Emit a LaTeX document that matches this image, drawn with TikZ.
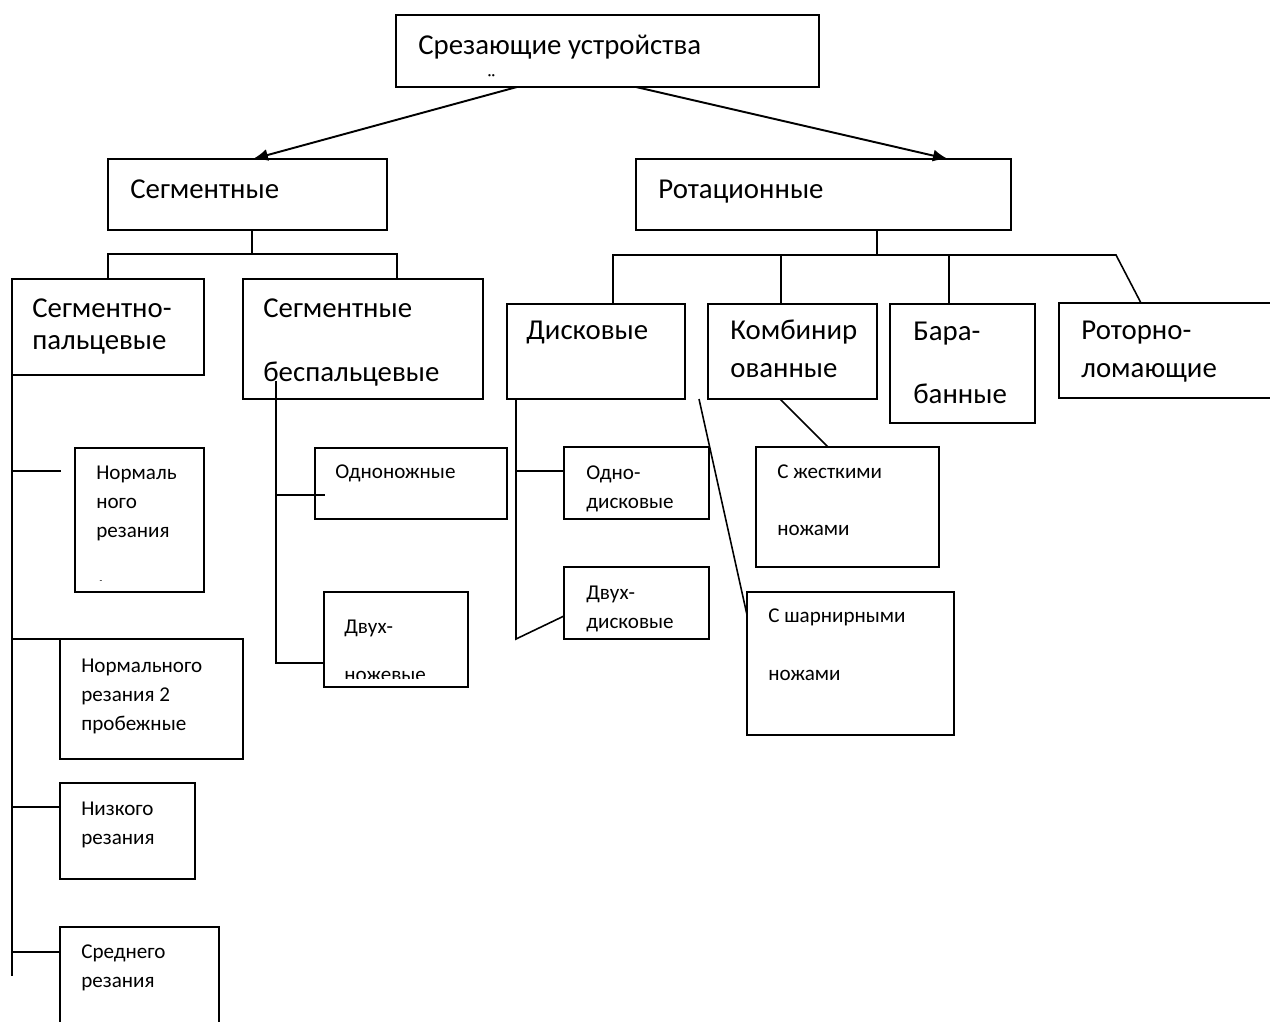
\documentclass[tikz,border=0pt]{standalone}
\usepackage{fontspec}
\setmainfont{Carlito}
\usetikzlibrary{arrows.meta}

\begin{document}
\begin{tikzpicture}[x=0.02cm, y=-0.02cm]

% Styles
        \tikzstyle{box}=[rectangle, draw, line width=1pt, anchor=north west, inner sep=0pt, outer sep=0pt]
        \tikzstyle{bigtxt}=[anchor=base west, inner sep=0pt, align=left, font=\fontsize{16.4}{18}\selectfont]
        \tikzstyle{smalltxt}=[anchor=base west, inner sep=0pt, align=left, font=\fontsize{12}{16.4}\selectfont]
        \tikzstyle{arrow}=[-{Latex[length=0.3cm, width=0.24cm]}, line width=1.1pt]
        \tikzstyle{link}=[line width=0.9pt]

        \useasboundingbox (0,0) rectangle (1270,1021);

% Nodes (multi-line texts are placed at the baseline of their last line)
% Root
        \node[box, minimum width=8.46cm, minimum height=1.44cm] (top) at (396,15) {};
        \node[bigtxt] (topT) at (418,54) {Срезающие устройства};
        \node[smalltxt] (topMark) at (487,88) {¨};

% Level 1
        \node[box, minimum width=5.58cm, minimum height=1.42cm] (seg) at (108,159) {};
        \node[bigtxt] (segT) at (130,198) {Сегментные};
        \node[box, minimum width=7.50cm, minimum height=1.42cm] (rot) at (636,159) {};
        \node[bigtxt] (rotT) at (658,198) {Ротационные};

% Segment branch
        \node[box, minimum width=3.84cm, minimum height=1.92cm] (segpal) at (12,279) {};
        \node[bigtxt] (segpalT) at (32,349) {Сегментно-\\пальцевые};
        \node[box, minimum width=4.80cm, minimum height=2.40cm] (bespal) at (243,279) {};
        \node[bigtxt] (bespalT) at (263,381) {Сегментные\\[18.3pt]беспальцевые};

% Finger-type cutters
        \node[box, minimum width=2.58cm, minimum height=2.88cm] (norm1) at (75,448) {};
        \node[smalltxt] (norm1T) at (96,537) {Нормаль\\ного\\резания};
        \node[font=\fontsize{5}{6}\selectfont, inner sep=0pt] (norm1Mark) at (101,582) {-};
        \node[box, minimum width=3.66cm, minimum height=2.40cm] (norm2) at (60,639) {};
        \node[smalltxt] (norm2T) at (81,730) {Нормального\\резания 2\\пробежные};
        \node[box, minimum width=2.70cm, minimum height=1.92cm] (nizk) at (60,783) {};
        \node[smalltxt] (nizkT) at (81,844) {Низкого\\резания};
        \node[box, minimum width=3.18cm, minimum height=2.40cm] (sred) at (60,927) {};
        \node[smalltxt] (sredT) at (81,987) {Среднего\\резания};

% Fingerless cutters
        \node[box, minimum width=3.84cm, minimum height=1.42cm] (odnon) at (315,448) {};
        \node[smalltxt] (odnonT) at (335,478) {Одноножные};
        \node[box, minimum width=2.88cm, minimum height=1.90cm] (dvuhn) at (324,592) {};
        \begin{scope}
            \clip (324,592) rectangle (468,678);
            \node[smalltxt] (dvuhnT) at (344,681) {Двух-\\[10.8pt]ножевые};
        \end{scope}

% Rotary branch
        \node[box, minimum width=3.56cm, minimum height=1.90cm] (disk) at (507,304) {};
        \node[bigtxt] (diskT) at (526,339) {Дисковые};
        \node[box, minimum width=3.38cm, minimum height=1.90cm] (comb) at (708,304) {};
        \node[bigtxt] (combT) at (730,377) {Комбинир\\[3.5pt]ованные};
        \node[box, minimum width=2.90cm, minimum height=2.38cm] (baraban) at (890,304) {};
        \node[bigtxt] (barabanT) at (913,403) {Бара-\\[17.7pt]банные};
        \node[box, minimum width=4.62cm, minimum height=1.90cm] (rotor) at (1059,303) {};
        \node[bigtxt] (rotorT) at (1081,377) {Роторно-\\[3.5pt]ломающие};

% Disc and combined cutters
        \node[box, minimum width=2.90cm, minimum height=1.44cm] (odnod) at (564,447) {};
        \node[smalltxt] (odnodT) at (586,508) {Одно-\\дисковые};
        \node[box, minimum width=2.90cm, minimum height=1.44cm] (dvuhd) at (564,567) {};
        \node[smalltxt] (dvuhdT) at (586,628) {Двух-\\дисковые};
        \node[box, minimum width=3.66cm, minimum height=2.40cm] (zhest) at (756,447) {};
        \node[smalltxt] (zhestT) at (777,535) {С жесткими\\[15.9pt]ножами};
        \node[box, minimum width=4.14cm, minimum height=2.86cm] (sharn) at (747,592) {};
        \node[smalltxt] (sharnT) at (768,680) {С шарнирными\\[16.5pt]ножами};

% Junction points
        \coordinate (segJ) at (252,254);
        \coordinate (segL) at (108,254);
        \coordinate (segR) at (397,254);
        \coordinate (rotJ) at (877,255);
        \coordinate (rotL) at (613,255);
        \coordinate (rotB) at (781,255);
        \coordinate (rotC) at (949,255);
        \coordinate (rotR) at (1116,255);
        \coordinate (palEnd) at (12,976);
        \coordinate (pal1) at (12,471);
        \coordinate (pal2) at (12,639);
        \coordinate (pal3) at (12,807);
        \coordinate (pal4) at (12,952);
        \coordinate (bsTop) at (276,381);
        \coordinate (bs1) at (276,495);
        \coordinate (bsEnd) at (276,663);
        \coordinate (ds1) at (516,471);
        \coordinate (dsEnd) at (516,639);
        \coordinate (slTop) at (699,399);
        \coordinate (slEnd) at (747,615);

% Connections
% Root arrows
        \draw[arrow] ([xshift=-1.81cm]top.south) -- ([xshift=0.11cm]seg.north);
        \draw[arrow] ([xshift=0.57cm]top.south) -- ([xshift=2.49cm]rot.north);

% Segment tree
        \draw[link] (seg.south -| segJ) -- (segJ);
        \draw[link] (segpal.north -| segL) -- (segL) -- (segR) -- (bespal.north -| segR);
        \draw[link] (segpal.south west) -- (palEnd);
        \draw[link] (pal1) -- ++(49,0);
        \draw[link] (pal2) -- (norm2.west |- pal2);
        \draw[link] (pal3) -- (nizk.west |- pal3);
        \draw[link] (pal4) -- (sred.west |- pal4);
        \draw[link] (bsTop) -- (bsEnd) -- (dvuhn.west |- bsEnd);
        \draw[link] (bs1) -- ++(49,0);

% Rotary tree
        \draw[link] (rot.south -| rotJ) -- (rotJ);
        \draw[link] (disk.north -| rotL) -- (rotL) -- (rotR) -- ([xshift=1.64cm]rotor.north west);
        \draw[link] (rotB) -- (comb.north -| rotB);
        \draw[link] (rotC) -- (baraban.north -| rotC);
        \draw[link] (disk.south -| dsEnd) -- (dsEnd) -- ([yshift=-0.26cm]dvuhd.west);
        \draw[link] (ds1) -- (odnod.west |- ds1);
        \draw[link] (slTop) -- (slEnd);
        \draw[link] ([xshift=-0.25cm]comb.south) -- ([xshift=-0.39cm]zhest.north);

\end{tikzpicture}
\end{document}
